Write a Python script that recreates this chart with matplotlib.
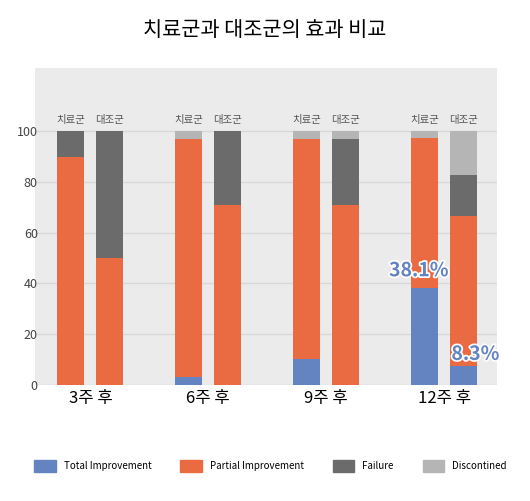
import numpy as np
import matplotlib.pyplot as plt
from matplotlib.patches import Patch
import matplotlib.patheffects as pe

plt.rcParams['font.family'] = ['Noto Sans CJK KR', 'DejaVu Sans']

weeks = ["3주 후", "6주 후", "9주 후", "12주 후"]
groups = ["치료군", "대조군"]
# [treatment, control] for each week
total = [[0, 0], [3, 0], [10, 0], [38.1, 7.5]]
partial = [[90, 50], [94, 71], [87, 71], [59.4, 59]]
failure = [[10, 50], [0, 29], [0, 26], [0, 16.5]]
discont = [[0, 0], [3, 0], [3, 3], [2.5, 17]]
series_names = ["Total Improvement", "Partial Improvement", "Failure", "Discontined"]
colors = ["#6384c0", "#ea6a42", "#6b6b6b", "#b5b5b5"]
labels_12w = ["38.1%", "8.3%"]

fig = plt.figure(figsize=(5.3, 5.01), dpi=100)
ax = fig.add_axes([0.066, 0.232, 0.872, 0.632])
ax.set_facecolor("#ebebeb")

offsets = [-0.165, 0.165]
width = 0.23
for gi in range(2):
    xs = np.arange(len(weeks)) + offsets[gi]
    bottom = np.zeros(len(weeks))
    for data, c in zip([total, partial, failure, discont], colors):
        vals = np.array([d[gi] for d in data])
        ax.bar(xs, vals, width, bottom=bottom, color=c, zorder=3)
        bottom += vals
    for x in xs:
        ax.text(x, 102.5, groups[gi], ha="center", va="bottom", fontsize=7.5, color="#555555")

ax.set_xlim(-0.47, 3.45)
ax.set_ylim(0, 125)
ax.set_yticks(range(0, 101, 20))
ax.yaxis.grid(True, color="#d8d8d8", lw=1, zorder=0)
ax.tick_params(axis="y", length=0, labelsize=9, colors="#444444", pad=-2)
ax.set_xticks(range(len(weeks)))
ax.set_xticklabels(weeks, fontsize=12)
ax.tick_params(axis="x", length=0, pad=4)
for s in ax.spines.values():
    s.set_visible(False)

fx = [3 + offsets[0] - 0.05, 3 + offsets[1] + 0.1]
fy = [45, 12]
for x, y, t in zip(fx, fy, labels_12w):
    ax.text(x, y, t, ha="center", va="center", fontsize=14, color=colors[0],
            fontweight="bold", zorder=5,
            path_effects=[pe.withStroke(linewidth=2.5, foreground="white")])

fig.text(0.5, 0.94, "치료군과 대조군의 효과 비교", ha="center", va="center", fontsize=15)

handles = [Patch(color=c, label=n) for c, n in zip(colors, series_names)]
fig.legend(handles=handles, loc="center", bbox_to_anchor=(0.51, 0.07), ncol=4,
           frameon=False, fontsize=7, handlelength=2.2, handleheight=1.6, columnspacing=3.0)

fig.savefig("out.png", dpi=100, facecolor="white")
